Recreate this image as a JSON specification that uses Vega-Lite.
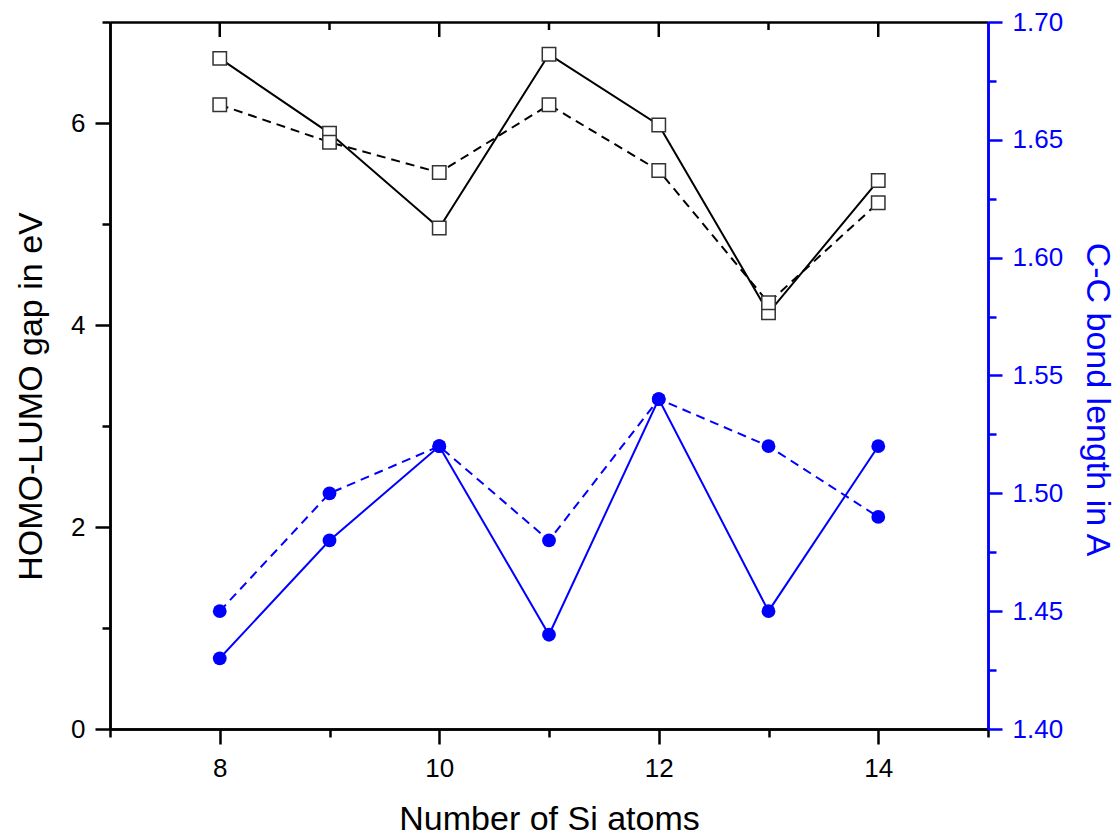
{
  "$schema": "https://vega.github.io/schema/vega-lite/v6.json",
  "width": 878,
  "height": 707,
  "autosize": {"type": "none"},
  "padding": {"left": 110, "top": 22, "right": 132, "bottom": 107},
  "background": "white",
  "config": {
    "view": {"stroke": null},
    "font": "Liberation Sans",
    "axis": {
      "grid": false,
      "labelFont": "Liberation Sans",
      "titleFont": "Liberation Sans",
      "labelFontSize": 26,
      "titleFontSize": 34,
      "titleFontWeight": "normal",
      "domainWidth": 2.5,
      "tickWidth": 2.5,
      "domainColor": "black",
      "tickColor": "black",
      "labelColor": "black",
      "titleColor": "black",
      "labelFlush": false,
      "labelOverlap": false
    }
  },
  "datasets": {
    "gap": [
      {"n": 8, "solid": 6.64, "dashed": 6.18},
      {"n": 9, "solid": 5.9, "dashed": 5.81},
      {"n": 10, "solid": 4.96, "dashed": 5.51},
      {"n": 11, "solid": 6.68, "dashed": 6.18},
      {"n": 12, "solid": 5.98, "dashed": 5.53},
      {"n": 13, "solid": 4.12, "dashed": 4.22},
      {"n": 14, "solid": 5.43, "dashed": 5.21}
    ],
    "bond": [
      {"n": 8, "solid": 1.43, "dashed": 1.45},
      {"n": 9, "solid": 1.48, "dashed": 1.5},
      {"n": 10, "solid": 1.52, "dashed": 1.52},
      {"n": 11, "solid": 1.44, "dashed": 1.48},
      {"n": 12, "solid": 1.54, "dashed": 1.54},
      {"n": 13, "solid": 1.45, "dashed": 1.52},
      {"n": 14, "solid": 1.52, "dashed": 1.49}
    ]
  },
  "layer": [
    {
      "data": {"name": "gap"},
      "mark": {"type": "line", "color": "black", "strokeWidth": 2},
      "encoding": {
        "x": {"field": "n", "type": "quantitative", "scale": {"domain": [7, 15], "nice": false, "zero": false},
          "axis": {"orient": "bottom", "values": [8, 10, 12, 14], "format": "d", "tickSize": 15, "labelPadding": 11, "title": "Number of Si atoms", "titlePadding": 21}},
        "y": {"field": "solid", "type": "quantitative", "scale": {"domain": [0, 7], "nice": false, "zero": false},
          "axis": {"orient": "left", "values": [0, 2, 4, 6], "format": "d", "tickSize": 15, "labelPadding": 10, "title": "HOMO-LUMO gap in eV", "titlePadding": 22, "titleY": 374}}
      }
    },
    {
      "data": {"name": "gap"},
      "mark": {"type": "line", "color": "black", "strokeWidth": 2, "strokeDash": [9, 6]},
      "encoding": {
        "x": {"field": "n", "type": "quantitative", "scale": {"domain": [7, 15], "nice": false, "zero": false},
          "axis": {"orient": "top", "ticks": false, "labels": false, "domain": true, "title": null}},
        "y": {"field": "dashed", "type": "quantitative", "scale": {"domain": [0, 7], "nice": false, "zero": false},
          "axis": {"orient": "left", "values": [1, 3, 5, 7], "tickSize": 8, "labels": false, "title": null}}
      }
    },
    {
      "data": {"name": "bond"},
      "mark": {"type": "line", "color": "#0000ff", "strokeWidth": 2},
      "encoding": {
        "x": {"field": "n", "type": "quantitative", "scale": {"domain": [7, 15], "nice": false, "zero": false},
          "axis": {"orient": "bottom", "values": [7, 9, 11, 13, 15], "tickSize": 8, "labels": false, "title": null}},
        "y": {"field": "solid", "type": "quantitative", "scale": {"domain": [1.4, 1.7], "nice": false, "zero": false},
          "axis": {"orient": "right", "values": [1.4, 1.45, 1.5, 1.55, 1.6, 1.65, 1.7], "format": ".2f", "tickSize": 14, "labelPadding": 10,
            "title": "C-C bond length in A", "titlePadding": 17, "titleY": 377,
            "domainColor": "#0000ff", "tickColor": "#0000ff", "labelColor": "#0000ff", "titleColor": "#0000ff"}}
      }
    },
    {
      "data": {"name": "bond"},
      "mark": {"type": "line", "color": "#0000ff", "strokeWidth": 2, "strokeDash": [9, 6]},
      "encoding": {
        "x": {"field": "n", "type": "quantitative", "scale": {"domain": [7, 15], "nice": false, "zero": false}, "axis": null},
        "y": {"field": "dashed", "type": "quantitative", "scale": {"domain": [1.4, 1.7], "nice": false, "zero": false},
          "axis": {"orient": "right", "values": [1.425, 1.475, 1.525, 1.575, 1.625, 1.675], "tickSize": 8, "labels": false, "title": null,
            "domainColor": "#0000ff", "tickColor": "#0000ff"}}
      }
    },
    {
      "data": {"name": "gap"},
      "transform": [{"filter": "datum.n % 2 == 0"}],
      "mark": {"type": "tick", "orient": "vertical", "size": 15, "thickness": 2.5, "color": "black", "opacity": 1, "yOffset": 7.5},
      "encoding": {
        "x": {"field": "n", "type": "quantitative", "scale": {"domain": [7, 15], "nice": false, "zero": false}, "axis": null},
        "y": {"datum": 7, "type": "quantitative", "scale": {"domain": [0, 7], "nice": false, "zero": false}, "axis": null}
      }
    },
    {
      "data": {"name": "gap"},
      "transform": [{"filter": "datum.n % 2 == 1"}],
      "mark": {"type": "tick", "orient": "vertical", "size": 8, "thickness": 2.5, "color": "black", "opacity": 1, "yOffset": 4},
      "encoding": {
        "x": {"field": "n", "type": "quantitative", "scale": {"domain": [7, 15], "nice": false, "zero": false}, "axis": null},
        "y": {"datum": 7, "type": "quantitative", "scale": {"domain": [0, 7], "nice": false, "zero": false}, "axis": null}
      }
    },
    {
      "data": {"name": "gap"},
      "mark": {"type": "point", "shape": "square", "filled": true, "fill": "white", "stroke": "#333333", "strokeWidth": 1.5, "size": 180, "opacity": 1},
      "encoding": {
        "x": {"field": "n", "type": "quantitative", "scale": {"domain": [7, 15], "nice": false, "zero": false}, "axis": null},
        "y": {"field": "solid", "type": "quantitative", "scale": {"domain": [0, 7], "nice": false, "zero": false}, "axis": null}
      }
    },
    {
      "data": {"name": "gap"},
      "mark": {"type": "point", "shape": "square", "filled": true, "fill": "white", "stroke": "#333333", "strokeWidth": 1.5, "size": 180, "opacity": 1},
      "encoding": {
        "x": {"field": "n", "type": "quantitative", "scale": {"domain": [7, 15], "nice": false, "zero": false}, "axis": null},
        "y": {"field": "dashed", "type": "quantitative", "scale": {"domain": [0, 7], "nice": false, "zero": false}, "axis": null}
      }
    },
    {
      "data": {"name": "bond"},
      "mark": {"type": "circle", "color": "#0000ff", "size": 190, "opacity": 1},
      "encoding": {
        "x": {"field": "n", "type": "quantitative", "scale": {"domain": [7, 15], "nice": false, "zero": false}, "axis": null},
        "y": {"field": "solid", "type": "quantitative", "scale": {"domain": [1.4, 1.7], "nice": false, "zero": false}, "axis": null}
      }
    },
    {
      "data": {"name": "bond"},
      "mark": {"type": "circle", "color": "#0000ff", "size": 190, "opacity": 1},
      "encoding": {
        "x": {"field": "n", "type": "quantitative", "scale": {"domain": [7, 15], "nice": false, "zero": false}, "axis": null},
        "y": {"field": "dashed", "type": "quantitative", "scale": {"domain": [1.4, 1.7], "nice": false, "zero": false}, "axis": null}
      }
    }
  ],
  "resolve": {
    "scale": {"y": "independent"},
    "axis": {"x": "independent", "y": "independent"}
  }
}
